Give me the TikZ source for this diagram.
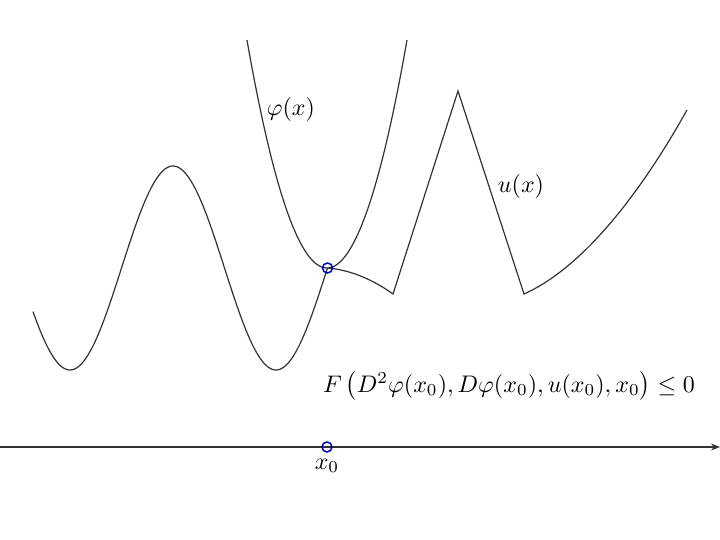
\documentclass[tikz,border=0pt]{standalone}
\usetikzlibrary{arrows.meta}
\begin{document}
\begin{tikzpicture}[x=1pt,y=-1pt,
  curve/.style={draw=black!80,line width=1.2pt},
  touch/.style={draw=blue!75!black,line width=1.5pt,circle,inner sep=0pt,minimum size=10pt},
  lab/.style={scale=2.4,inner sep=0pt}]
\useasboundingbox (0,0) rectangle (720,540);
% axis
\coordinate (axs) at (0,447);
\coordinate (axe) at (720,447);
\draw[curve,-{Stealth[length=9pt,width=7pt]}] (axs) -- (axe);
% u(x) left oscillating part
\draw[curve] plot[domain=33:327.5,samples=150,smooth] (\x,{268+102*cos((\x-70)*1.747573)});
% u(x) right part
\coordinate (p0) at (327.5,268);
\coordinate (p1) at (393,294);
\coordinate (p2) at (458,91);
\coordinate (p3) at (524,294);
\coordinate (p4) at (687,110);
\draw[curve,line join=miter] (p0) .. controls (352,270) and (375,281) .. (p1) -- (p2) -- (p3)
  .. controls (578,270) and (635,203) .. (p4);
% phi parabola
\draw[curve] plot[domain=247:407,samples=120,smooth] (\x,{268-0.0356*(\x-327)*(\x-327)});
% markers
\node[touch] (c1) at (p0) {};
\node[touch] (c2) at (327,447) {};
% labels
\node[lab] (phi) at (291,110) {$\varphi(x)$};
\node[lab] (u) at (521,187) {$u(x)$};
\node[lab] (x0) at (327,466) {$x_0$};
\node[lab] (F) at (509,386) {$F\,\bigl(D^2\varphi(x_0),D\varphi(x_0),u(x_0),x_0\bigr)\le 0$};
\end{tikzpicture}
\end{document}
